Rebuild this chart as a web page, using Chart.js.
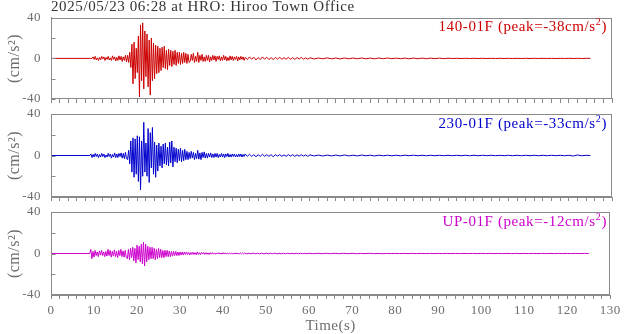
<!DOCTYPE html>
<html>
<head>
<meta charset="utf-8">
<script src="https://cdn.jsdelivr.net/npm/chart.js@4/dist/chart.umd.min.js"></script>
<style>
html, body { margin: 0; padding: 0; background: #fff; }
#wrap { position: relative; width: 624px; height: 334px; }
#wrap canvas { position: absolute; left: 0; top: 0; }
</style>
</head>
<body>
<div id="wrap">
  <canvas id="ch-140" width="624" height="334"></canvas>
  <canvas id="ch-230" width="624" height="334"></canvas>
  <canvas id="ch-up" width="624" height="334"></canvas>
</div>
<script>
const title = "2025/05/23 06:28 at HRO: Hiroo Town Office";
const components = ["140-01F", "230-01F", "UP-01F"];
const peaks = [-38, -33, -12];

// sample times (s)
const times = [
  0, 9,
  9.25, 9.5, 9.75, 10, 10.25, 10.5, 10.75, 11,
  11.25, 11.5, 11.75, 12, 12.25, 12.5, 12.75, 13,
  13.25, 13.5, 13.75, 14, 14.25, 14.5, 14.75, 15,
  15.25, 15.5, 15.75, 16, 16.25, 16.5, 16.75, 17,
  17.25, 17.5,
  17.75, 18, 18.25, 18.5, 18.75, 19, 19.25, 19.5,
  19.75, 20, 20.25, 20.5, 20.75, 21, 21.25, 21.5,
  21.75, 22, 22.25, 22.5, 22.75, 23, 23.25, 23.5,
  23.75, 24, 24.25, 24.5, 24.75, 25, 25.25, 25.5,
  25.75, 26, 26.25, 26.5, 26.75, 27, 27.25, 27.5,
  27.75, 28, 28.25, 28.5, 28.75, 29, 29.25, 29.5,
  29.75, 30, 30.25, 30.5, 30.75, 31, 31.25, 31.5,
  31.75, 32,
  32.25, 32.5, 32.75, 33, 33.25, 33.5, 33.75, 34,
  34.25, 34.5, 34.75, 35, 35.25, 35.5, 35.75, 36,
  36.25, 36.5, 36.75, 37, 37.25, 37.5, 37.75, 38,
  38.25, 38.5, 38.75, 39, 39.25, 39.5, 39.75, 40,
  40.25, 40.5, 40.75, 41, 41.25, 41.5, 41.75, 42,
  42.25, 42.5, 42.75, 43, 43.25, 43.5, 43.75, 44,
  44.25, 44.5, 44.75, 45,
  45.5, 46, 46.5, 47, 47.5, 48, 48.5, 49, 49.5, 50,
  50.5, 51, 51.5, 52, 52.5, 53, 53.5, 54, 54.5, 55,
  55.5, 56, 56.5, 57, 57.5, 58, 58.5, 59, 59.5, 60,
  61, 62, 63, 64, 65, 66, 67, 68, 69, 70,
  71, 72, 73, 74, 75, 76, 77, 78, 79, 80,
  81, 82, 83, 84, 85, 86, 87, 88, 89, 90,
  91, 92, 93, 94, 95, 96, 97, 98, 99, 100,
  101, 102, 103, 104, 105, 106, 107, 108, 109, 110,
  111, 112, 113, 114, 115, 116, 117, 118, 119, 120,
  121, 122, 123, 124, 125
];

// acceleration (cm/s^2)
const acc140 = [
  0, 0,
  0, 0, 1.5, -1, 2, -1.5, 0.5, -2,
  1, -1.5, 2, -0.5, 1.5, -2, 1, -1,
  2, -1.5, 0.5, -2, 2.5, -1, 1.5, -2.5,
  1, -2, 2.5, -1.5, 2, -3, 1.5, -2,
  3, -3.5,
  3, -4, 6, -9, 14, -25, 16, -20,
  10, -14, 22, -38, 33, -22, 35, -30,
  27, -18, 24, -28, 18, -36, 20, -22,
  15, -20, 13, -15, 12, -14, 10, -12,
  11, -9, 12, -10, 8, -11, 9, -7,
  8, -8, 7, -6, 8, -7, 6, -5,
  6, -6, 5, -5, 6, -4, 5, -5,
  4, -4,
  -3, 4, -2, 5, -4, 2, -3, 6,
  -4, 3, -2, 4, -3, 1.5, -3, 3,
  -2, 3, -3.5, 1.5, -2, 3, -1.5, 2.5,
  -3, 2, -1, 2.5, -2.5, 1.5, -2, 3,
  -1.5, 2, -2.5, 1, -2, 2.5, -1.5, 2,
  -2, 1.5, -1, 2, -2.5, 1.5, -1.5, 2,
  -1, 1.5, -2, 1,
  -1.2, 1.5, -0.8, 1.2, -1.5, 0.8, -1.2, 1.5, -0.8, 1.2,
  -1.2, 0.8, -1.2, 1, -0.8, 1.2, -1, 0.8, -0.8, 1,
  -0.8, 0.8, -1, 0.8, -0.6, 1, -0.8, 0.6, -0.8, 0.6,
  -0.5, 0.4, -0.4, 0.5, -0.4, 0.4, -0.5, 0.4, -0.4, 0.4,
  -0.4, 0.4, -0.4, 0.3, -0.4, 0.4, -0.3, 0.4, -0.3, 0.3,
  -0.3, 0.3, -0.4, 0.3, -0.3, 0.3, -0.3, 0.3, -0.3, 0.3,
  -0.3, 0.2, -0.1, 0.1, -0.1, 0.1, -0.1, 0.1, -0.1, 0.1,
  -0.1, 0.1, -0.1, 0.1, -0.1, 0.1, -0.1, 0.1, -0.1, 0.1,
  -0.1, 0.1, -0.1, 0.1, -0.1, 0.1, -0.1, 0.1, -0.1, 0.1,
  -0.1, 0.1, -0.1, 0.1, 0
];

const acc230 = [
  0, 0,
  1.5, -2, 1, -1.5, 2, -1, 1.5, -2,
  1, -1.5, 2, -1, 1.5, -2, 0.5, -1.5,
  2, -1, 1.5, -2.5, 1, -1.5, 2.5, -2,
  1.5, -2, 2, -1, 2.5, -2.5, 2, -3,
  3, -3,
  -4, 5, -8, 14, -16, 17, -21, 16,
  -18, 19, -25, 18, -33, 14, -20, 32,
  -16, 12, -20, 26, -26, 22, -12, 27,
  -18, 13, -21, 10, -15, 12, -10, 9,
  -12, 11, -8, 12, -9, 8, -10, 13,
  -7, 14, -11, 8, -6, 7, -7, 6,
  -5, 7, -6, 5, -5, 6, -4, 4,
  -4, 3,
  -3, 4, -2.5, 3, -4, 2, -3, 5,
  -3.5, 2.5, -4, 3, -2, 3.5, -2.5, 2,
  -2.5, 2, -1.5, 2.5, -2, 1.5, -2, 2,
  -1.5, 2, -2, 1, -1.5, 2, -1.5, 1.5,
  -2, 1.5, -1, 2, -1.5, 1, -1.5, 1.5,
  -1, 1.5, -1.5, 1, -1.5, 1.5, -1, 1.5,
  -1.5, 1, -1, 1.5,
  -0.8, 1.2, -0.8, 0.8, -1.2, 0.8, -0.8, 1.2, -0.8, 0.8,
  -0.8, 0.8, -1.2, 0.8, -0.6, 0.8, -0.8, 0.6, -0.8, 0.8,
  -0.6, 0.8, -0.8, 0.6, -0.6, 0.8, -0.6, 0.6, -0.8, 0.6,
  -0.4, 0.4, -0.5, 0.4, -0.4, 0.4, -0.4, 0.5, -0.4, 0.3,
  -0.4, 0.4, -0.3, 0.3, -0.4, 0.3, -0.3, 0.3, -0.3, 0.3,
  -0.3, 0.3, -0.2, 0.3, -0.2, 0.2, -0.2, 0.2, -0.2, 0.2,
  -0.2, 0.2, -0.2, 0.2, -0.2, 0.2, -0.2, 0.2, -0.2, 0.2,
  -0.2, 0.2, -0.2, 0.2, -0.2, 0.2, -0.2, 0.2, -0.2, 0.2,
  -0.2, 0.2, -0.2, 0.2, -0.2, 0.2, -0.2, 0.2, -0.2, 0.2,
  -0.5, 0.5, -0.3, 0.2, 0
];

const accUp = [
  0, 0,
  4, -5, 2, -3.5, 3, -2, 1.5, -3,
  2.5, -1.5, 3, -2, 1.5, -3, 2, -2.5,
  4, -2, 3, -3.5, 2, -2.5, 3.5, -3,
  2, -4, 3, -2, 4, -3, 2.5, -3.5,
  3, -4,
  -5, 4, -6, 5, -4, 6, -7, 5,
  -9, 8, -6, 7, -8, 9, -10, 11,
  -12, 9, -8, 7, -6, 6, -5, 6,
  -5, 5, -6, 4, -5, 5, -4, 4,
  -4, 3, -4, 3, -3, 3, -3, 2.5,
  -3, 2, -2.5, 2, -2, 2, -2, 1.5,
  -2, 1.5, -1.5, 1.5, -1.5, 1.5, -1, 1.5,
  -1, 1,
  -1.5, 1, -0.8, 1.2, -1, 0.8, -1.2, 1.5,
  -1, 0.8, -1, 1, -0.6, 1, -0.8, 0.8,
  -0.8, 0.6, -1, 0.8, -0.6, 0.8, -0.6, 0.6,
  -0.8, 0.6, -0.5, 0.8, -0.6, 0.5, -0.6, 0.8,
  -0.5, 0.6, -0.6, 0.5, -0.5, 0.6, -0.5, 0.5,
  -0.6, 0.5, -0.4, 0.6, -0.5, 0.4, -0.5, 0.5,
  -0.4, 0.5, -0.5, 0.4,
  -0.4, 0.3, -0.3, 0.4, -0.3, 0.3, -0.4, 0.3, -0.3, 0.3,
  -0.3, 0.3, -0.2, 0.3, -0.3, 0.2, -0.3, 0.2, -0.2, 0.3,
  -0.2, 0.2, -0.3, 0.2, -0.2, 0.2, -0.2, 0.2, -0.2, 0.2,
  -0.2, 0.2, -0.2, 0.2, -0.2, 0.2, -0.2, 0.2, -0.2, 0.2,
  -0.2, 0.1, -0.1, 0.2, -0.1, 0.1, -0.2, 0.1, -0.1, 0.1,
  -0.1, 0.1, -0.1, 0.1, -0.1, 0.1, -0.1, 0.1, -0.1, 0.1,
  -0.1, 0.1, -0.1, 0.1, -0.1, 0.1, -0.1, 0.1, -0.1, 0.1,
  -0.1, 0.1, -0.1, 0.1, -0.1, 0.1, -0.1, 0.1, -0.1, 0.1,
  -0.1, 0.1, -0.1, 0.1, -0.1, 0.1, -0.1, 0.1, -0.1, 0.1,
  -0.1, 0.1, -0.1, 0.1, 0
];

const serif = "'Liberation Serif', 'Times New Roman', serif";
const axisColor = "#8a8a8a";
const labelColor = "#6e6e6e";

Chart.defaults.font.family = serif;
Chart.defaults.color = labelColor;

function decoPlugin(idx, color) {
  return {
    id: "deco" + idx,
    beforeDraw(chart) {
      chart.ctx.letterSpacing = "0.5px";
    },
    afterDraw(chart) {
      const {ctx, chartArea: a, scales: {y}} = chart;
      const L = Math.round(a.left) + 0.5, T = Math.round(a.top) + 0.5;
      const R = Math.round(a.right) - 0.5, B = Math.round(a.bottom) - 0.5;
      ctx.save();
      ctx.strokeStyle = axisColor;
      ctx.lineWidth = 1;
      ctx.strokeRect(L, T, R - L, B - T);
      ctx.beginPath();
      y.ticks.forEach(t => {
        const py = Math.round(y.getPixelForValue(t.value)) + 0.5;
        ctx.moveTo(L, py);
        ctx.lineTo(L + 4, py);
      });
      ctx.stroke();

      ctx.letterSpacing = "0.6px";
      ctx.textBaseline = "alphabetic";
      if (idx === 0) {
        ctx.fillStyle = "#333";
        ctx.font = "15px " + serif;
        ctx.textAlign = "left";
        ctx.fillText(title, a.left, 11);
      }
      const main = components[idx] + " (peak=" + peaks[idx] + "cm/s";
      ctx.font = "15px " + serif;
      const wMain = ctx.measureText(main).width;
      const wClose = ctx.measureText(")").width;
      ctx.font = "10px " + serif;
      const wSup = ctx.measureText("2").width;
      let x = 607 - (wMain + wSup + wClose);
      const base = a.top + 13.5;
      ctx.fillStyle = color;
      ctx.textAlign = "left";
      ctx.font = "15px " + serif;
      ctx.fillText(main, x, base);
      x += wMain;
      ctx.font = "10px " + serif;
      ctx.fillText("2", x, base - 6);
      x += wSup;
      ctx.font = "15px " + serif;
      ctx.fillText(")", x, base);
      ctx.restore();
    }
  };
}

function makePanel(canvasId, idx, values, color, padTop, padBottom, isBottom) {
  const points = times.map((t, i) => ({x: t, y: values[i]}));
  return new Chart(document.getElementById(canvasId), {
    type: "line",
    data: {
      datasets: [{
        data: points,
        borderColor: color,
        borderWidth: 1,
        borderJoinStyle: "round",
        pointRadius: 0,
        tension: 0,
        fill: false
      }]
    },
    options: {
      responsive: false,
      animation: false,
      events: [],
      layout: {padding: {top: padTop, bottom: padBottom, left: 0, right: 12}},
      plugins: {legend: {display: false}, tooltip: {enabled: false}},
      scales: {
        x: {
          type: "linear",
          min: 0,
          max: 130,
          ticks: {
            stepSize: 2,
            autoSkip: false,
            maxRotation: 0,
            display: isBottom,
            padding: 4,
            color: labelColor,
            font: {size: 13},
            callback: v => (v % 10 === 0 ? String(v) : "")
          },
          grid: {drawOnChartArea: false, drawTicks: true, tickLength: 4, color: axisColor},
          border: {color: axisColor},
          title: {
            display: isBottom,
            text: "Time(s)",
            color: labelColor,
            font: {size: 15, lineHeight: 1},
            padding: 0
          },
          afterFit(s) { s.height = isBottom ? 39 : 5; }
        },
        y: {
          min: -40,
          max: 40,
          ticks: {
            stepSize: 10,
            padding: 10,
            color: labelColor,
            font: {size: 13},
            callback: v => (v % 40 === 0 ? String(v) : "")
          },
          grid: {display: false, drawTicks: false},
          border: {color: axisColor},
          title: {
            display: true,
            text: "(cm/s²)",
            color: labelColor,
            font: {size: 16},
            padding: {top: 5, bottom: 0}
          },
          afterFit(s) { s.width = 51; }
        }
      }
    },
    plugins: [decoPlugin(idx, color)]
  });
}

makePanel("ch-140", 0, acc140, "#cc0000", 15, 230, false);
makePanel("ch-230", 1, acc230, "#0000cc", 114, 132, false);
makePanel("ch-up", 2, accUp, "#cc00cc", 212, 0, true);
</script>
</body>
</html>
